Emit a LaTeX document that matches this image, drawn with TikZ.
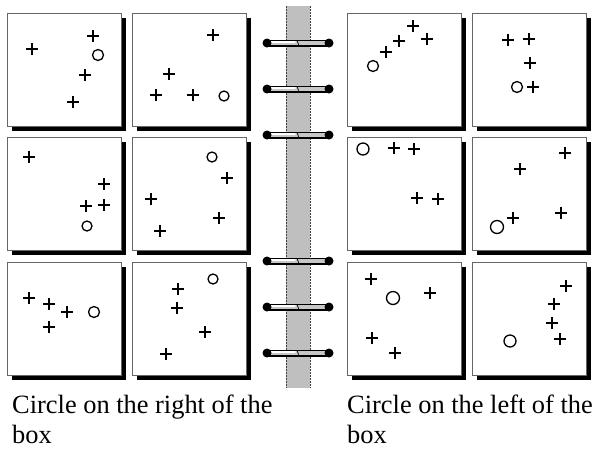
\documentclass[tikz,border=0pt]{standalone}
\usepackage{fontspec}
\setmainfont{Liberation Serif}
\usetikzlibrary{shadows}

\begin{document}
\begin{tikzpicture}[
    x=1pt, y=-1pt,
    panel/.style={rectangle, draw=black!60, line width=0.7pt, fill=white, anchor=north west, minimum width=114pt, minimum height=113pt, inner sep=0pt,
        drop shadow={shadow xshift=5pt, shadow yshift=-5pt, fill=black, opacity=1}},
    pen/.style={line width=1.3pt, black},
    edgeline/.style={draw=black!75, line width=0.8pt, dash pattern=on 2pt off 1pt},
    caption/.style={font=\fontsize{26.4}{30}\selectfont, anchor=north west, inner sep=0pt, align=left},
    crossmark/.pic={\draw[pen] (-6,0) -- (6,0) (0,-6) -- (0,6);},
    binder/.pic={
        \draw[black, line width=7pt, line cap=round] (-31,0) -- (31,0);
        \draw[black!22, line width=4.6pt, line cap=round] (-30,0) -- (30,0);
        \draw[white, line width=1.8pt, line cap=round] (-27,-0.7) -- (-3,-0.7);
        \fill (-31,0) circle[radius=4.5pt];
        \fill (31,0) circle[radius=4.5pt];
        \draw[line width=0.7pt] (-1,-2.5) -- (1,2.5);
    }
]
\useasboundingbox (0,0) rectangle (593,451);

% Spine
\fill[black!25] (286,6) rectangle (310,388);
\draw[edgeline] (286,6) -- (286,388);
\draw[edgeline] (310,6) -- (310,388);

% Binder Rings
\pic at (298,43) {binder};
\pic at (298,89) {binder};
\pic at (298,135) {binder};
\pic at (298,261) {binder};
\pic at (298,307) {binder};
\pic at (298,353) {binder};

% Left Page Panels
\node[panel] (l11) at (7,13) {};
\node[panel] (l12) at (132,13) {};
\node[panel] (l21) at (7,137) {};
\node[panel] (l22) at (132,137) {};
\node[panel] (l31) at (7,262) {};
\node[panel] (l32) at (132,262) {};

% Right Page Panels
\node[panel] (r11) at (347,13) {};
\node[panel] (r12) at (472,13) {};
\node[panel] (r21) at (347,137) {};
\node[panel] (r22) at (472,137) {};
\node[panel] (r31) at (347,262) {};
\node[panel] (r32) at (472,262) {};

% Left Page Marks (circle on the right)
\pic at (32,49) {crossmark};
\pic at (93,36) {crossmark};
\pic at (85,75) {crossmark};
\pic at (73,102) {crossmark};
\draw[pen] (98,55) circle[radius=5.5pt];

\pic at (213,35) {crossmark};
\pic at (169,74) {crossmark};
\pic at (156,95) {crossmark};
\pic at (193,95) {crossmark};
\draw[pen] (224,96) circle[radius=5pt];

\pic at (29,157) {crossmark};
\pic at (104,184) {crossmark};
\pic at (86,206) {crossmark};
\pic at (104,205) {crossmark};
\draw[pen] (87,226) circle[radius=5pt];

\pic at (227,178) {crossmark};
\pic at (151,199) {crossmark};
\pic at (219,218) {crossmark};
\pic at (160,231) {crossmark};
\draw[pen] (212,157) circle[radius=5pt];

\pic at (29,298) {crossmark};
\pic at (49,304) {crossmark};
\pic at (67,312) {crossmark};
\pic at (49,327) {crossmark};
\draw[pen] (94,312) circle[radius=5.5pt];

\pic at (178,289) {crossmark};
\pic at (177,308) {crossmark};
\pic at (205,332) {crossmark};
\pic at (166,354) {crossmark};
\draw[pen] (213,279) circle[radius=5pt];

% Right Page Marks (circle on the left)
\pic at (413,26) {crossmark};
\pic at (399,41) {crossmark};
\pic at (427,39) {crossmark};
\pic at (386,52) {crossmark};
\draw[pen] (373,66) circle[radius=5.5pt];

\pic at (508,40) {crossmark};
\pic at (529,39) {crossmark};
\pic at (530,63) {crossmark};
\pic at (533,87) {crossmark};
\draw[pen] (517,87) circle[radius=5.5pt];

\pic at (394,148) {crossmark};
\pic at (414,149) {crossmark};
\pic at (417,198) {crossmark};
\pic at (438,199) {crossmark};
\draw[pen] (363,149) circle[radius=6pt];

\pic at (565,153) {crossmark};
\pic at (520,169) {crossmark};
\pic at (513,218) {crossmark};
\pic at (561,213) {crossmark};
\draw[pen] (497,227) circle[radius=6.5pt];

\pic at (371,279) {crossmark};
\pic at (430,293) {crossmark};
\pic at (372,338) {crossmark};
\pic at (395,353) {crossmark};
\draw[pen] (393,298) circle[radius=6.5pt];

\pic at (566,286) {crossmark};
\pic at (554,304) {crossmark};
\pic at (552,323) {crossmark};
\pic at (560,339) {crossmark};
\draw[pen] (510,341) circle[radius=6pt];

% Captions
\node[caption] (capl) at (12,395) {Circle on the right of the\\box};
\node[caption] (capr) at (347,395) {Circle on the left of the\\box};

\end{tikzpicture}
\end{document}
